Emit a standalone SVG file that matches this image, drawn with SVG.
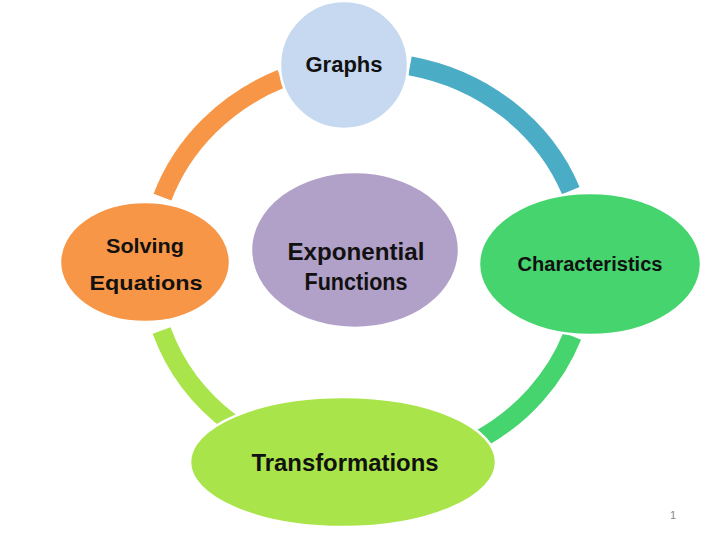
<svg xmlns="http://www.w3.org/2000/svg" width="720" height="540" viewBox="0 0 720 540">
  <style>
    .arc { fill: none; stroke-width: 19; stroke-linecap: butt; }
    .node { stroke: #FFFFFF; stroke-width: 2.5; }
    .lbl { font-family: "Liberation Sans", Arial, sans-serif; font-weight: bold; fill: #111111; text-anchor: middle; }
  </style>
  <rect width="720" height="540" fill="#FFFFFF"/>
  <g id="connectors">
    <path class="arc" stroke="#F79646" d="M162.5,197.2 A218,203 0 0 1 281.1,78.8"/>
    <path class="arc" stroke="#4BACC6" d="M410,65.8 A218,203 0 0 1 570.8,190.6"/>
    <path class="arc" stroke="#46D46E" d="M572.2,336.1 A218,203 0 0 1 480.3,439.0"/>
    <path class="arc" stroke="#A9E44A" d="M230.8,422.8 A218,203 0 0 1 161.6,330.4"/>
  </g>
  <g id="graphs">
    <circle class="node" cx="344" cy="65" r="64" fill="#C6D9F1"/>
    <text class="lbl" x="344" y="72" font-size="22">Graphs</text>
  </g>
  <g id="exponential-functions">
    <ellipse class="node" cx="355" cy="250" rx="104" ry="78" fill="#B1A0C7"/>
    <text class="lbl" x="356" y="260" font-size="24" textLength="137" lengthAdjust="spacingAndGlyphs">Exponential</text>
    <text class="lbl" x="356" y="290" font-size="24" textLength="103" lengthAdjust="spacingAndGlyphs">Functions</text>
  </g>
  <g id="solving-equations">
    <ellipse class="node" cx="145" cy="262" rx="85" ry="60" fill="#F79646"/>
    <text class="lbl" x="145" y="253" font-size="21" textLength="78" lengthAdjust="spacingAndGlyphs">Solving</text>
    <text class="lbl" x="146" y="290" font-size="21" textLength="113" lengthAdjust="spacingAndGlyphs">Equations</text>
  </g>
  <g id="characteristics">
    <ellipse class="node" cx="590" cy="264" rx="111" ry="71" fill="#46D46E"/>
    <text class="lbl" x="590" y="271" font-size="20" textLength="145" lengthAdjust="spacingAndGlyphs">Characteristics</text>
  </g>
  <g id="transformations">
    <ellipse class="node" cx="343" cy="462" rx="153" ry="65" fill="#A9E44A"/>
    <text class="lbl" x="345" y="471" font-size="24" textLength="187" lengthAdjust="spacingAndGlyphs">Transformations</text>
  </g>
  <text x="673" y="519" font-family="Liberation Sans, Arial, sans-serif" font-size="11" fill="#888888" text-anchor="middle">1</text>
</svg>
